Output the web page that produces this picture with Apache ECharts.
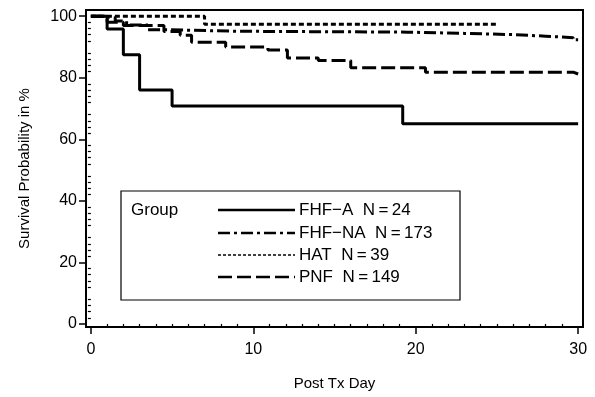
<!DOCTYPE html>
<html>
<head>
<meta charset="utf-8">
<script src="https://cdn.jsdelivr.net/npm/echarts@6/dist/echarts.min.js"></script>
<style>
html,body{margin:0;padding:0;background:#fff;}
#chart{width:595px;height:397px;}
</style>
</head>
<body>
<div id="chart"></div>
<script>
// ---- data (Kaplan-Meier step points: day, survival %) ----
const days_FHF_A  = [0, 1, 2, 3, 5, 19.2, 30];
const surv_FHF_A  = [100, 95.8, 87.5, 76.0, 70.8, 65.0, 65.0];

const days_FHF_NA = [0, 0.5, 1.5, 2.2, 3.5, 4.5, 9, 19.5, 23, 26, 28, 29.7, 30];
const surv_FHF_NA = [100, 99.4, 98.4, 97.1, 95.6, 95.1, 94.8, 94.4, 94.0, 93.5, 93.0, 92.3, 92.3];

const days_HAT    = [0, 7, 25];
const surv_HAT    = [100, 97.4, 97.4];

const days_PNF    = [0, 1, 2, 4.5, 5.5, 6.2, 8.3, 10.9, 12.1, 14, 16, 20.6, 29.7, 30];
const surv_PNF    = [100, 98.0, 97.0, 95.0, 93.8, 91.5, 90.0, 89.0, 86.4, 85.6, 83.2, 81.8, 81.2, 81.2];

const TS = '\u2009';
const seriesNames = [
  'FHF\u2212A  N' + TS + '=' + TS + '24',
  'FHF\u2212NA  N' + TS + '=' + TS + '173',
  'HAT  N' + TS + '=' + TS + '39',
  'PNF  N' + TS + '=' + TS + '149'
];
const xMajorTicks = [0, 10, 20, 30];
const yMajorTicks = [0, 20, 40, 60, 80, 100];
const xMinorTicks = [1,2,3,4,5,6,7,8,9,11,12,13,14,15,16,17,18,19,21,22,23,24,25,26,27,28,29];
const yMinorTicks = [2,4,6,8,12,14,16,18,22,24,26,28,32,34,36,38,42,44,46,48,52,54,56,58,62,64,66,68,72,74,76,78,82,84,86,88,92,94,96,98];

const FONT = 'Liberation Sans, Arial, sans-serif';
const dashStyles = ['solid', [12, 4, 3, 4], [5, 3], [14, 5]];
const widths = [3, 3, 3, 3];

function pts(d, s) { return d.map((v, i) => [v, s[i]]); }
const allData = [
  pts(days_FHF_A, surv_FHF_A),
  pts(days_FHF_NA, surv_FHF_NA),
  pts(days_HAT, surv_HAT),
  pts(days_PNF, surv_PNF)
];

const chart = echarts.init(document.getElementById('chart'), null, {renderer: 'canvas'});

const xMin = -0.3, xMax = 30.3, yMin = -1, yMax = 102;

// legend graphic
const legX = 121, legY = 191, legW = 339, legH = 109;
const rowY = [210, 233, 255, 277];
const legendEls = [
  {type: 'rect', shape: {x: legX, y: legY, width: legW, height: legH},
   style: {fill: '#fff', stroke: '#000', lineWidth: 1.2}, z: 10},
  {type: 'text', x: 131, y: rowY[0], style: {text: 'Group', font: '17px ' + FONT, fill: '#000', textVerticalAlign: 'middle'}, z: 11}
];
seriesNames.forEach((n, i) => {
  legendEls.push({type: 'line', shape: {x1: 218, y1: rowY[i], x2: 295, y2: rowY[i]},
    style: {stroke: '#000', lineWidth: i === 2 ? 1.6 : 2.5, lineDash: dashStyles[i] === 'solid' ? null : (i === 2 ? [3, 2] : dashStyles[i])}, z: 11});
  legendEls.push({type: 'text', x: 299, y: rowY[i], style: {text: n, font: '17px ' + FONT, fill: '#000', textVerticalAlign: 'middle'}, z: 11});
});

const option = {
  animation: false,
  backgroundColor: '#fff',
  grid: {left: 86, right: 12, top: 10, bottom: 70, show: true, borderColor: '#000', borderWidth: 2, containLabel: false},
  xAxis: [
    {type: 'value', min: xMin, max: xMax, position: 'bottom',
     axisLine: {show: true, onZero: false, lineStyle: {color: '#000', width: 2}},
     axisTick: {show: true, customValues: xMajorTicks, length: 7, lineStyle: {color: '#000', width: 1.5}},
     axisLabel: {show: true, customValues: xMajorTicks, color: '#000', fontSize: 16, fontFamily: FONT, margin: 15},
     splitLine: {show: false},
     name: 'Post Tx Day', nameLocation: 'middle', nameGap: 49,
     nameTextStyle: {color: '#000', fontSize: 15, fontFamily: FONT}},
    {type: 'value', min: xMin, max: xMax, position: 'bottom',
     axisLine: {show: false},
     axisTick: {show: true, customValues: xMinorTicks, length: 4, lineStyle: {color: '#000', width: 1.2}},
     axisLabel: {show: false}, splitLine: {show: false}}
  ],
  yAxis: [
    {type: 'value', min: yMin, max: yMax, position: 'left',
     axisLine: {show: true, onZero: false, lineStyle: {color: '#000', width: 2}},
     axisTick: {show: true, customValues: yMajorTicks, length: 7, lineStyle: {color: '#000', width: 1.5}},
     axisLabel: {show: true, customValues: yMajorTicks, color: '#000', fontSize: 16, fontFamily: FONT, margin: 9},
     splitLine: {show: false},
     name: 'Survival Probability in %', nameLocation: 'middle', nameGap: 54, nameRotate: 90,
     nameTextStyle: {color: '#000', fontSize: 15, fontFamily: FONT}},
    {type: 'value', min: yMin, max: yMax, position: 'left',
     axisLine: {show: false},
     axisTick: {show: true, customValues: yMinorTicks, length: 3, lineStyle: {color: '#000', width: 1.2}},
     axisLabel: {show: false}, splitLine: {show: false}}
  ],
  series: allData.map((d, i) => ({
    name: seriesNames[i], type: 'line', step: 'end', data: d, symbol: 'none',
    xAxisIndex: 0, yAxisIndex: 0, z: 5,
    lineStyle: {color: '#000', width: widths[i], type: dashStyles[i]}
  })),
  graphic: legendEls
};
chart.setOption(option);
</script>
</body>
</html>
